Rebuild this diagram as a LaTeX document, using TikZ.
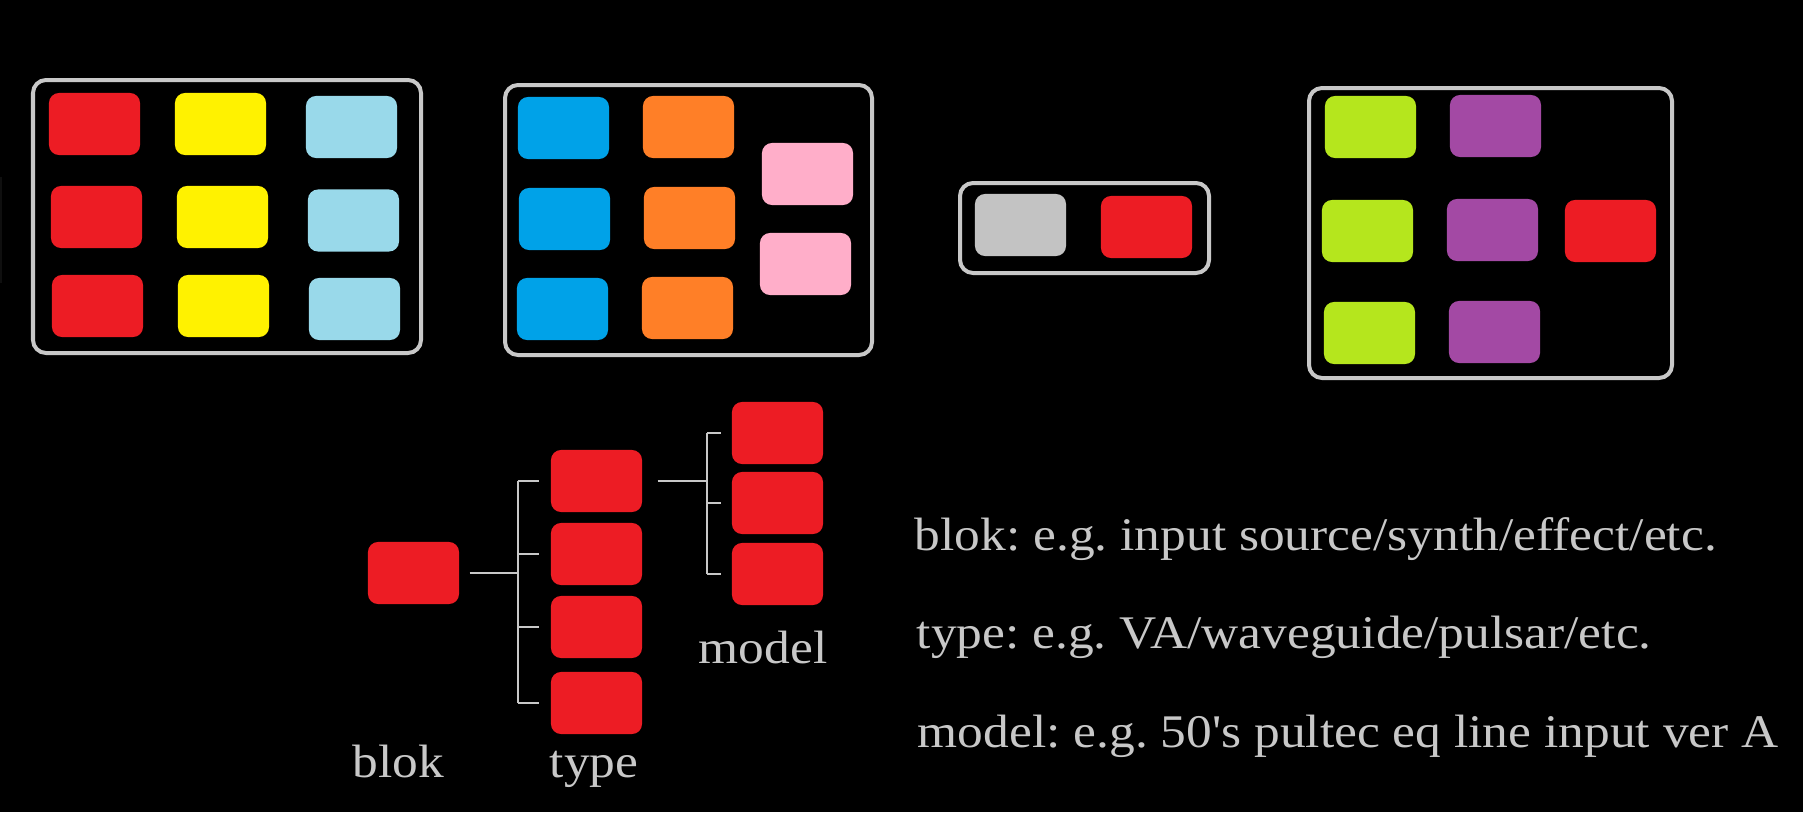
\documentclass[tikz,border=0pt]{standalone}
\usepackage{fontspec}
\setmainfont{Liberation Serif}
\frenchspacing
\definecolor{padred}{RGB}{237,28,36}
\definecolor{padyellow}{RGB}{255,242,0}
\definecolor{padsky}{RGB}{153,217,234}
\definecolor{padblue}{RGB}{0,162,232}
\definecolor{padorange}{RGB}{255,127,39}
\definecolor{padpink}{RGB}{255,174,201}
\definecolor{padgray}{RGB}{195,195,195}
\definecolor{padlime}{RGB}{181,230,29}
\definecolor{padpurple}{RGB}{163,73,164}
\definecolor{linegray}{RGB}{200,200,200}
\tikzset{
  pad/.style={rectangle,rounded corners=0.1cm,minimum width=0.91cm,
              minimum height=0.62cm,inner sep=0pt},
  frame/.style={draw=linegray,line width=0.04cm,rounded corners=0.13cm},
  wire/.style={draw=linegray,line width=0.8pt},
  caption/.style={text=linegray,font=\fontsize{13.3}{16}\selectfont,
                  inner sep=0pt,anchor=base west,xscale=1.10,transform shape}
}

\begin{document}
\begin{tikzpicture}[x=0.01cm,y=-0.01cm]
        \fill[black] (0,0) rectangle (1803,812);
        \useasboundingbox (0,0) rectangle (1803,812);
        \draw[gray!12!black,line width=0.02cm] (1,177) -- (1,283);
        % top row of racks
        \draw[frame] (33,80) rectangle (421,353);
        \foreach \n/\c/\x/\y in {a1/padred/94.5/124, a2/padred/96.5/217, a3/padred/97.5/306,
                                 b1/padyellow/220.5/124, b2/padyellow/222.5/217, b3/padyellow/223.5/306,
                                 c1/padsky/351.5/127, c2/padsky/353.5/220.5, c3/padsky/354.5/309}
          {\node[pad,fill=\c] (\n) at (\x,\y) {};}
        \draw[frame] (505,85) rectangle (872,355);
        \foreach \n/\c/\x/\y in {d1/padblue/563.5/128, d2/padblue/564.5/219, d3/padblue/562.5/309,
                                 e1/padorange/688.5/127, e2/padorange/689.5/218, e3/padorange/687.5/308,
                                 f1/padpink/807.5/174, f2/padpink/805.5/264}
          {\node[pad,fill=\c] (\n) at (\x,\y) {};}
        \draw[frame] (960,183) rectangle (1209,273);
        \node[pad,fill=padgray] (g1) at (1020.5,225) {};
        \node[pad,fill=padred]  (g2) at (1146.5,227) {};
        \draw[frame] (1309,88) rectangle (1672,378);
        \foreach \n/\c/\x/\y in {h1/padlime/1370.5/127, h2/padlime/1367.5/231, h3/padlime/1369.5/333,
                                 i1/padpurple/1495.5/126, i2/padpurple/1492.5/230, i3/padpurple/1494.5/332,
                                 j1/padred/1610.5/231}
          {\node[pad,fill=\c] (\n) at (\x,\y) {};}
        % blok -> type -> model
        \node[pad,fill=padred] (blok) at (413.5,573) {};
        \foreach \t/\y in {1/481,2/554,3/627,4/703}
          {\node[pad,fill=padred] (type\t) at (596.5,\y) {};}
        \foreach \m/\y in {1/433,2/503,3/574}
          {\node[pad,fill=padred] (model\m) at (777.5,\y) {};}
        \coordinate (tfork) at (518,573);
        \coordinate (mfork) at (707,481);
        \draw[wire] ([xshift=0.1cm]blok.east) -- (tfork);
        \draw[wire] (tfork |- type1) -- (tfork |- type4);
        \foreach \t in {1,...,4}
          {\draw[wire] (tfork |- type\t) -- ([xshift=-0.11cm]type\t.west);}
        \draw[wire] ([xshift=0.15cm]type1.east) -- (mfork);
        \draw[wire] (mfork |- model1) -- (mfork |- model3);
        \foreach \m in {1,2,3}
          {\draw[wire] (mfork |- model\m) -- ([xshift=-0.1cm]model\m.west);}
        \node[caption] (lblok)  at (352,777) {blok};
        \node[caption] (ltype)  at (549,777) {type};
        \node[caption] (lmodel) at (698,663) {model};
        \node[caption] (nblok)  at (914,550) {blok: e.g. input source/synth/effect/etc.};
        \node[caption] (ntype)  at (916,648) {type: e.g. VA/waveguide/pulsar/etc.};
        \node[caption] (nmodel) at (917,747) {model: e.g. 50\textquotesingle s pultec eq line input ver A};
      \end{tikzpicture}
\end{document}
